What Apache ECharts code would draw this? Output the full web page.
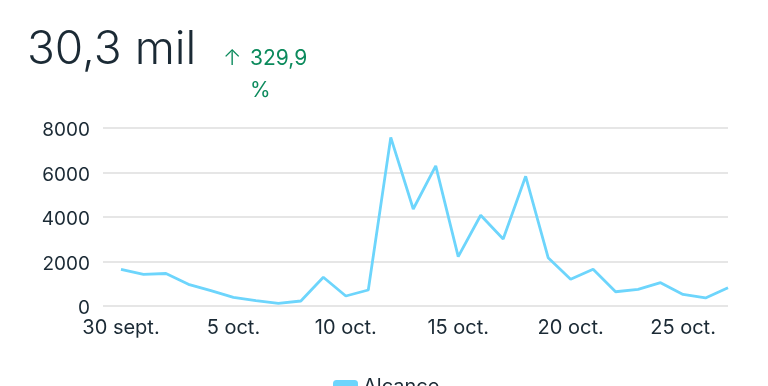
<!DOCTYPE html>
<html><head><meta charset="utf-8">
<script src="https://cdn.jsdelivr.net/npm/echarts@6/dist/echarts.min.js"></script>
<style>html,body{margin:0;padding:0;background:#fff}#c{width:768px;height:386px}</style>
</head><body><div id="c"></div>
<script>
const dates = ['30 sept.','1 oct.','2 oct.','3 oct.','4 oct.','5 oct.','6 oct.','7 oct.','8 oct.','9 oct.','10 oct.','11 oct.','12 oct.','13 oct.','14 oct.','15 oct.','16 oct.','17 oct.','18 oct.','19 oct.','20 oct.','21 oct.','22 oct.','23 oct.','24 oct.','25 oct.','26 oct.','27 oct.'];
const alcance = [1650,1420,1460,975,690,390,240,120,225,1290,450,720,7580,4360,6300,2220,4080,3010,5830,2170,1200,1650,640,750,1050,520,360,820];
const tickIdx = [0,5,10,15,20,25];
const yTicks = [0,2000,4000,6000,8000];
const headline = '30,3 mil';
const arrow = '↑';
const change = '329,9';
const changeUnit = '%';
const seriesName = 'Alcance';

const chart = echarts.init(document.getElementById('c'), null, {renderer:'canvas'});
const font = 'Inter, Roboto, sans-serif';
const dark = '#1b2a35';
const green = '#0b8a5c';
chart.setOption({
  animation:false,
  backgroundColor:'#fff',
  textStyle:{fontFamily:font},
  graphic:[
    {type:'text', left:27, top:27, style:{text:headline, font:'300 46px '+font, fill:dark}},
    {type:'text', left:223, top:47, style:{text:arrow, font:'300 22px '+font, fill:green}},
    {type:'text', left:250, top:48, style:{text:change, font:'400 21px '+font, fill:green}},
    {type:'text', left:250, top:80, style:{text:changeUnit, font:'400 21px '+font, fill:green}}
  ],
  legend:{
    data:[seriesName], top:372, left:328,
    itemWidth:25, itemHeight:14, itemGap:13,
    icon:'roundRect',
    textStyle:{fontSize:20, color:dark, fontFamily:font}
  },
  grid:{left:103, right:40, top:128, bottom:80},
  xAxis:{
    type:'value', min:-0.8, max:dates.length-1,
    axisLine:{show:false}, axisTick:{show:false}, splitLine:{show:false},
    axisLabel:{customValues:tickIdx, formatter:v=>dates[Math.round(v)], fontSize:20, color:dark, margin:12, fontFamily:font}
  },
  yAxis:{
    type:'value', min:yTicks[0], max:yTicks[yTicks.length-1], interval:2000,
    axisLine:{show:false}, axisTick:{show:false},
    splitLine:{lineStyle:{color:'#dedede', width:1.5}},
    axisLabel:{formatter:v=>String(v), fontSize:19, color:dark, margin:13, fontFamily:font, verticalAlign:'top', padding:[-7,0,0,0]}
  },
  series:[{
    name:seriesName, type:'line', showSymbol:false,
    data:alcance.map((v,i)=>[i,v]),
    lineStyle:{color:'#6dd5fc', width:2.8},
    itemStyle:{color:'#6dd5fc'}
  }]
});
</script></body></html>
